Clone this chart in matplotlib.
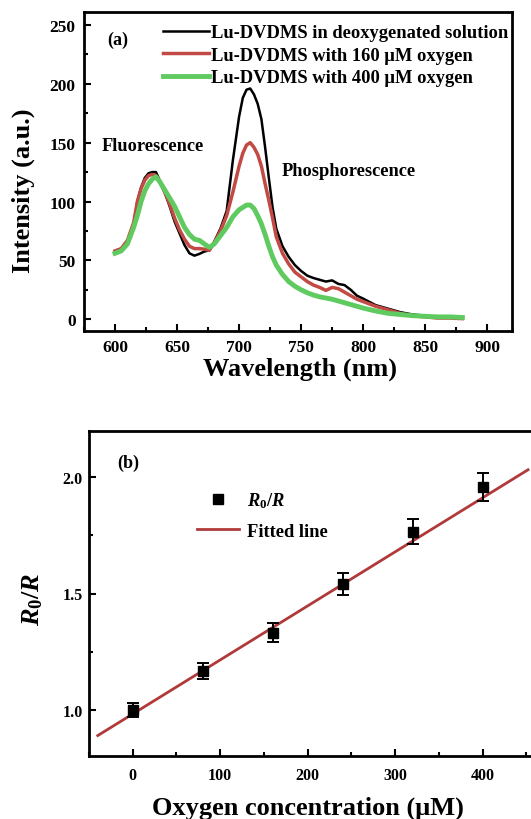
import numpy as np
import matplotlib
matplotlib.use("Agg")
import matplotlib.pyplot as plt
from matplotlib.ticker import MultipleLocator
from matplotlib.lines import Line2D

plt.rcParams['font.family'] = ['Liberation Serif', 'DejaVu Serif']
plt.rcParams['font.weight'] = 'bold'
plt.rcParams['mathtext.fontset'] = 'custom'
plt.rcParams['mathtext.it'] = 'Liberation Serif:italic:bold'
plt.rcParams['mathtext.rm'] = 'Liberation Serif:bold'

# panel (a): emission spectra
wl = [600, 605, 610, 615, 618, 621, 624, 627, 630, 633,
      636, 640, 644, 648, 652, 656, 660, 664, 668, 672,
      676, 680, 685, 690, 695, 700, 703, 706, 709, 712,
      715, 718, 721, 724, 727, 730, 735, 740, 745, 750,
      755, 760, 765, 770, 775, 780, 785, 790, 795, 800,
      810, 820, 830, 840, 850, 860, 870, 880]
deoxy = [58, 60, 66, 80, 100, 112, 120, 124, 125, 125,
         118, 108, 96, 83, 73, 63, 56, 54, 55.5, 57.5,
         58.5, 66, 77, 92, 135, 172, 188, 195, 196, 191,
         183, 170, 146, 120, 95, 77, 62, 53, 46, 41,
         37, 35, 33.5, 32, 33, 30, 29, 25, 20, 17.5,
         12, 9, 6, 4, 3, 2, 1.5, 1]
oxy160 = [58, 60, 67, 82, 100, 111, 118, 122, 123, 122,
          117, 108, 98, 86, 76, 68, 62, 60, 60, 59.5,
          58.5, 65, 75, 88, 108, 130, 141, 148, 150, 146,
          140, 130, 115, 101, 86, 70, 56, 47, 40, 36,
          32, 29, 27, 24.5, 27, 26, 23, 20, 17, 15,
          11, 8, 5, 3, 2, 1, 1, 0.5]
oxy400 = [56, 58, 64, 78, 88, 100, 109, 115, 119, 121,
          117, 110, 103, 96, 87, 78, 72, 68, 67, 64,
          61, 64, 71, 78, 87, 93, 95, 97, 97, 94,
          88, 81, 72, 62, 53, 46, 38, 32, 28, 25,
          22.5, 20.5, 19, 18, 17, 15.5, 14, 12.5, 11, 9.5,
          7, 5, 4, 3, 2.5, 2, 2, 1.5]
labels_a = ['Lu-DVDMS in deoxygenated solution',
            'Lu-DVDMS with 160 \u03bcM oxygen',
            'Lu-DVDMS with 400 \u03bcM oxygen']

# panel (b): R0/R vs oxygen
conc = [0, 80, 160, 240, 320, 400]
ratio = [1.0, 1.166, 1.331, 1.540, 1.767, 1.958]
ratio_err = [0.03, 0.035, 0.04, 0.048, 0.055, 0.06]
fit_x = [-40, 452]
fit_y = [0.888, 2.033]

W, H = 531, 820
fig = plt.figure(figsize=(W / 100, H / 100), dpi=100)

def style(ax, size, ypad, xpad):
    for s in ax.spines.values():
        s.set_linewidth(2)
    ax.tick_params(which='both', direction='in', top=False, right=False, width=1.5)
    ax.tick_params(which='major', length=5, labelsize=size)
    ax.tick_params(axis='y', which='major', pad=ypad)
    ax.tick_params(axis='x', which='major', pad=xpad)
    ax.tick_params(which='minor', length=3)
    for t in ax.get_xticklabels() + ax.get_yticklabels():
        t.set_fontweight('bold')

# ---- top panel
ax1 = fig.add_axes([84 / W, 1 - 332 / H, (512 - 84) / W, (332 - 13) / H])
ax1.plot(wl, deoxy, color='black', lw=1.8, label=labels_a[0])
ax1.plot(wl, oxy160, color='#c24a45', lw=2.5, label=labels_a[1])
ax1.plot(wl, oxy400, color='#5fca5f', lw=3.5, label=labels_a[2])
ax1.set_xlim(575, 920)
ax1.set_ylim(-10, 261)
ax1.xaxis.set_major_locator(MultipleLocator(50))
ax1.xaxis.set_minor_locator(MultipleLocator(25))
ax1.yaxis.set_major_locator(MultipleLocator(50))
ax1.yaxis.set_minor_locator(MultipleLocator(25))
style(ax1, 12.5, 6, 6)
fig.text(300 / W, 1 - 369 / H, 'Wavelength (nm)', fontsize=19, fontweight='bold',
         ha='center', va='center')
fig.text(23 / W, 1 - 191 / H, 'Intensity (a.u.)', fontsize=19, fontweight='bold',
         ha='center', va='center', rotation=90)
ax1.legend(loc='upper right', bbox_to_anchor=(508 / W, 1 - 25 / H),
           bbox_transform=fig.transFigure, frameon=False, handlelength=2.5,
           handletextpad=0.1, labelspacing=0.3, borderpad=0, borderaxespad=0,
           prop={'weight': 'bold', 'size': 13.3})
fig.text(107 / W, 1 - 40 / H, '(a)', fontsize=13, fontweight='bold', va='center')
fig.text(102 / W, 1 - 147 / H, 'Fluorescence', fontsize=13.2, fontweight='bold', va='center')
fig.text(282 / W, 1 - 172 / H, 'Phosphorescence', fontsize=13.2, fontweight='bold', va='center')

# ---- bottom panel
ax2 = fig.add_axes([89 / W, 1 - 757 / H, (535 - 89) / W, (757 - 432) / H])
ax2.plot(fit_x, fit_y, color='#b03a3a', lw=2.0)
ax2.errorbar(conc, ratio, yerr=ratio_err, fmt='s', color='black', ms=7.5,
             capsize=4, elinewidth=1.4, capthick=1.4)
ax2.set_xlim(-50, 460)
ax2.set_ylim(0.8, 2.2)
ax2.xaxis.set_major_locator(MultipleLocator(100))
ax2.xaxis.set_minor_locator(MultipleLocator(50))
ax2.yaxis.set_major_locator(MultipleLocator(0.5))
ax2.yaxis.set_minor_locator(MultipleLocator(0.25))
style(ax2, 11.5, 4.5, 8)
fig.text(308 / W, 1 - 808 / H, 'Oxygen concentration (\u03bcM)', fontsize=19,
         fontweight='bold', ha='center', va='center')
fig.text(33 / W, 1 - 599 / H, '$R_0/R$', fontsize=19, ha='center', va='center', rotation=90)
handles = [Line2D([], [], ls='none', marker='s', color='black', ms=7),
           Line2D([], [], color='#b03a3a', lw=2.0)]
ax2.legend(handles, ['$R_0/R$', 'Fitted line'], loc='upper left',
           bbox_to_anchor=(197 / W, 1 - 491 / H), bbox_transform=fig.transFigure,
           frameon=False, handlelength=2.3, handletextpad=0.4, labelspacing=0.71,
           borderpad=0, borderaxespad=0, prop={'weight': 'bold', 'size': 13.3})
fig.text(117 / W, 1 - 463 / H, '(b)', fontsize=13, fontweight='bold', va='center')

fig.savefig('out.png', dpi=100)
